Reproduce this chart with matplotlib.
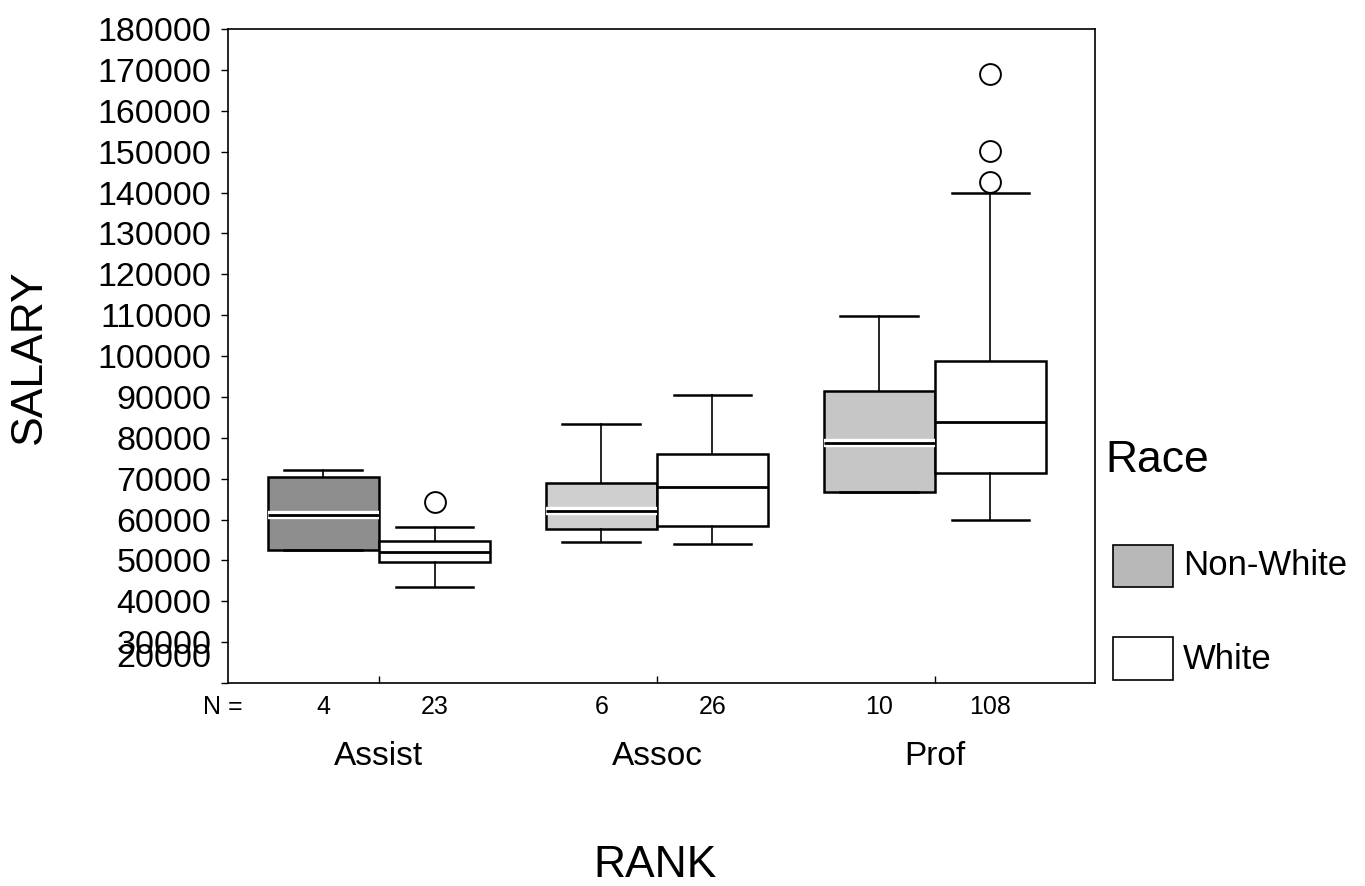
import matplotlib
matplotlib.use("Agg")
import matplotlib.pyplot as plt
import matplotlib.patheffects as pe
from matplotlib.patches import Rectangle

plt.rcParams['font.family'] = ['Liberation Sans', 'DejaVu Sans']

ranks = ['Assist', 'Assoc', 'Prof']
races = ['Non-White', 'White']

# box stats per rank, [Non-White, White]
whislo = [[52500, 43600], [54600, 54100], [66800, 60000]]
q1 = [[52500, 49700], [57800, 58500], [66800, 71400]]
med = [[61200, 52100], [62200, 68000], [78800, 83900]]
q3 = [[70500, 54800], [69000, 76100], [91500, 98800]]
whishi = [[72200, 58200], [83400, 90500], [109800, 139900]]
fliers = [[[], [64400]], [[], []], [[], [142600, 150200, 169000]]]
counts = [[4, 23], [6, 26], [10, 108]]

fills = [['#8e8e8e', 'white'], ['#cfcfcf', 'white'], ['#c6c6c6', 'white']]

fig = plt.figure(figsize=(13.65, 8.86), dpi=100)
ax = fig.add_axes([0.1670, 0.2291, 0.6352, 0.7381])

stats = []
positions = []
colors = []
for g in range(len(ranks)):
    for r in range(len(races)):
        stats.append(dict(whislo=whislo[g][r], q1=q1[g][r], med=med[g][r],
                          q3=q3[g][r], whishi=whishi[g][r], fliers=fliers[g][r]))
        positions.append(g - 0.2 + 0.4 * r)
        colors.append(fills[g][r])

bp = ax.bxp(stats, positions=positions, widths=0.4, patch_artist=True,
            capwidths=0.28,
            boxprops=dict(linewidth=1.8, edgecolor='black'),
            whiskerprops=dict(linewidth=1.2, color='black'),
            capprops=dict(linewidth=1.8, color='black'),
            medianprops=dict(linewidth=2, color='black'),
            flierprops=dict(marker='o', markersize=15, markerfacecolor='white',
                            markeredgecolor='black', markeredgewidth=1.4))
for box, c in zip(bp['boxes'], colors):
    box.set_facecolor(c)
for i, m in enumerate(bp['medians']):
    if i % 2 == 0:
        m.set_path_effects([pe.Stroke(linewidth=6, foreground='white'), pe.Normal()])

ax.set_xlim(-0.543, 2.576)
ax.set_ylim(20000, 180000)
ax.set_xticks(range(len(ranks)))
ax.set_xticklabels([])
yt = list(range(20000, 180001, 10000))
ax.set_yticks(yt)
ax.set_yticklabels([''] + [str(v) for v in yt[1:]], fontsize=24.5)
ax.tick_params(axis='y', length=5, width=1, pad=7)
ax.tick_params(axis='x', length=5, width=1, direction='in')
ax.annotate('20000', xy=(0, 20000), xycoords=('axes fraction', 'data'),
            xytext=(-12, 18), textcoords='offset points',
            ha='right', va='center', fontsize=24.5, annotation_clip=False)
for s in ax.spines.values():
    s.set_linewidth(1.2)

# N counts and rank names under the axis
ax.annotate('N =', xy=(-0.56, 20000), xycoords='data', xytext=(0, -17),
            textcoords='offset points', ha='center', va='center', fontsize=18,
            annotation_clip=False)
for g in range(len(ranks)):
    for r in range(len(races)):
        ax.annotate(str(counts[g][r]), xy=(g - 0.2 + 0.4 * r, 20000), xycoords='data',
                    xytext=(0, -17), textcoords='offset points',
                    ha='center', va='center', fontsize=18, annotation_clip=False)
    ax.annotate(ranks[g], xy=(g, 20000), xycoords='data', xytext=(0, -53),
                textcoords='offset points', ha='center', va='center', fontsize=24,
                annotation_clip=False)

fig.text(0.48, 0.0237, 'RANK', ha='center', va='center', fontsize=32)
fig.text(0.0212, 0.597, 'SALARY', ha='center', va='center', rotation=90, fontsize=32)

# legend
fig.text(0.8095, 0.4808, 'Race', ha='left', va='center', fontsize=32)
fig.patches.append(Rectangle((0.8154, 0.3375), 0.044, 0.0474, transform=fig.transFigure,
                             facecolor='#b8b8b8', edgecolor='black', linewidth=1.2))
fig.patches.append(Rectangle((0.8154, 0.2325), 0.044, 0.0485, transform=fig.transFigure,
                             facecolor='white', edgecolor='black', linewidth=1.2))
fig.text(0.8667, 0.3612, races[0], ha='left', va='center', fontsize=25)
fig.text(0.8667, 0.2562, races[1], ha='left', va='center', fontsize=25)

fig.savefig('out.png', dpi=100)
